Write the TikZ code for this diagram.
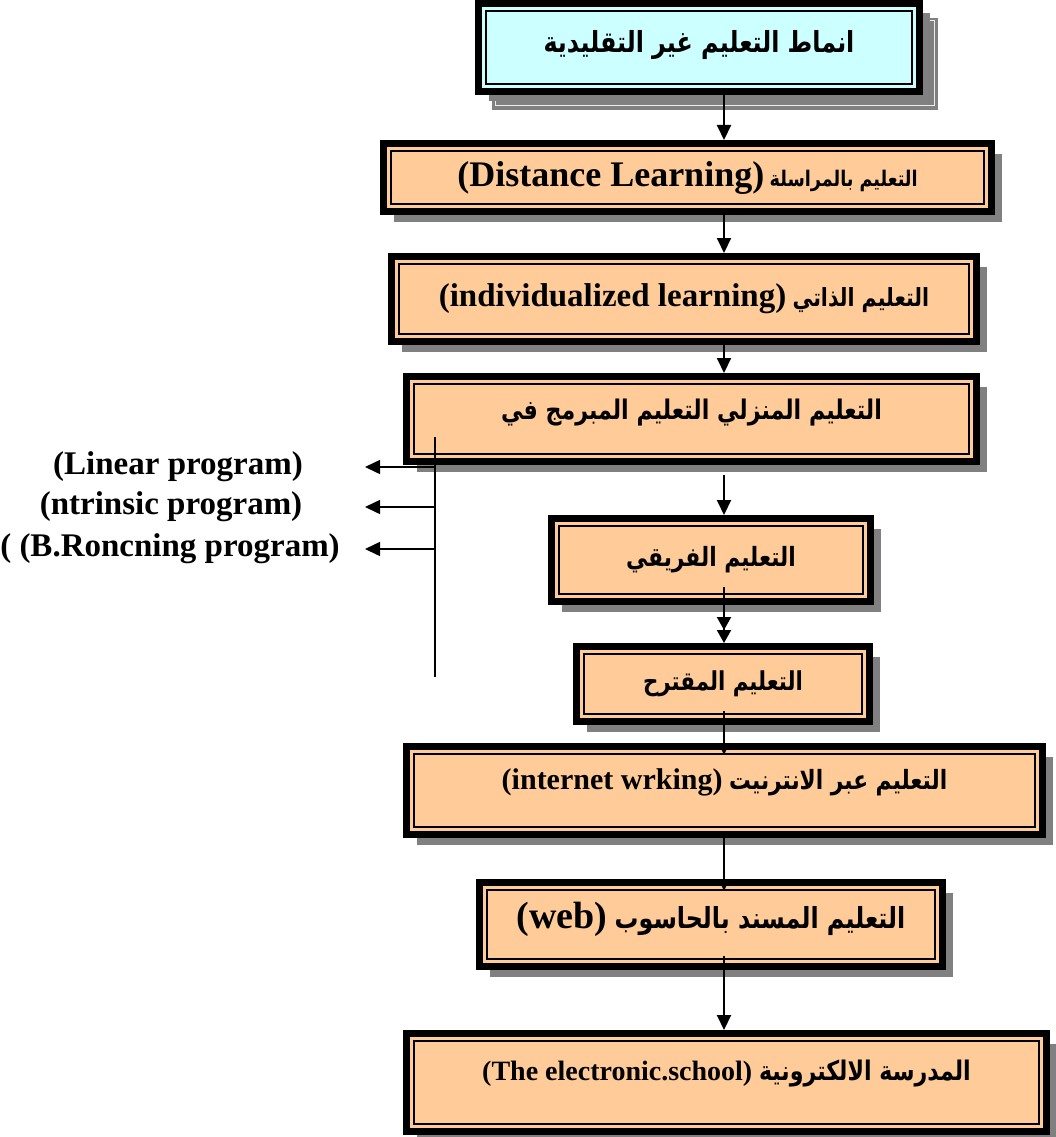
\documentclass[tikz,border=0pt]{standalone}
\usepackage{fontspec}
\setmainfont{Liberation Serif}
\newfontfamily\arabicfont[Script=Arabic,FakeStretch=0.82]{DejaVu Sans}
\TeXXeTstate=1
\usetikzlibrary{arrows.meta,shadows}

\definecolor{peach}{RGB}{255,204,153}
\definecolor{paleblue}{RGB}{204,255,255}
\definecolor{shadowgray}{RGB}{128,128,128}

\newcommand\fs[1]{\fontsize{#1}{#1}\selectfont}
\newcommand\arb[1]{\hbox{\arabicfont\bfseries\beginR #1\endR}}
\newcommand\lat[2]{\hbox{\rmfamily\bfseries\fs{#1}#2}}

\tikzset{
  learnbox/.style={draw, line width=7pt, fill=peach, inner sep=0pt,
    path picture={\draw[line width=2.2pt]
      ([shift={(7.75pt,7.75pt)}]path picture bounding box.south west) rectangle
      ([shift={(-7.75pt,-7.75pt)}]path picture bounding box.north east);},
    drop shadow={shadow xshift=10pt, shadow yshift=-10pt, fill=shadowgray, opacity=1}},
  titlebox/.style={learnbox, fill=paleblue, drop shadow={opacity=0}},
  arr/.style={line width=2pt, -{Triangle[width=14pt,length=15pt]}},
  smallarr/.style={line width=2pt, -{Triangle[width=7pt,length=8pt]}},
  dblarr/.style={line width=2pt, -{Triangle[width=14pt,length=13pt]Triangle[width=14pt,length=13pt]}},
  progtext/.style={font=\bfseries\fs{33}, inner sep=0pt}
}

\begin{document}
\begin{tikzpicture}[x=1pt, y=-1pt]
  \useasboundingbox (0,0) rectangle (1056,1137);

  % shadow of the title box
  \fill[shadowgray] (492,18) rectangle (938,110);
  \draw[white!85!gray, line width=1pt] (495,21) rectangle (934,106);

  % Nodes
  \node[titlebox, minimum width=441pt, minimum height=88pt, font=\fs{29}, text depth=12pt] (b1) at (699,47.5)
    {\arb{انماط التعليم غير التقليدية}};
  \node[learnbox, minimum width=608pt, minimum height=68pt, font=\fs{21.5}] (b2) at (687.5,177.5)
    {\lat{36}{(Distance Learning)} \arb{التعليم بالمراسلة}};
  \node[learnbox, minimum width=585pt, minimum height=85pt, font=\fs{25}] (b3) at (684,299)
    {\lat{33}{(individualized learning)} \arb{التعليم الذاتي}};
  \node[learnbox, minimum width=570pt, minimum height=85pt, font=\fs{27}, text depth=19pt] (b4) at (691.5,419)
    {\arb{التعليم المنزلي التعليم المبرمج في}};
  \node[learnbox, minimum width=319pt, minimum height=83pt, font=\fs{26.5}] (b5) at (711,560)
    {\arb{التعليم الفريقي}};
  \node[learnbox, minimum width=293pt, minimum height=75pt, font=\fs{26}] (b6) at (723,684)
    {\arb{التعليم المقترح}};
  \node[learnbox, minimum width=636pt, minimum height=88pt, font=\fs{26.5}, text depth=22pt] (b7) at (724.5,790.5)
    {\lat{30}{(internet wrking)} \arb{التعليم عبر الانترنيت}};
  \node[learnbox, minimum width=463pt, minimum height=84pt, font=\fs{29}, text depth=19pt] (b8) at (711,924.5)
    {\lat{38}{(web)} \arb{التعليم المسند بالحاسوب}};
  \node[learnbox, minimum width=640pt, minimum height=98pt, font=\fs{27}, text depth=24pt] (b9) at (726.5,1082.5)
    {\lat{28}{(The electronic.school)} \arb{المدرسة الالكترونية}};

  \node[progtext] (p1) at (178,467) {(Linear program)};
  \node[progtext] (p2) at (171,507) {(ntrinsic program)};
  \node[progtext] (p3) at (170,549) {( (B.Roncning program)};

  \coordinate (spine) at (724,0);
  \coordinate (fork) at (435,437);
  \coordinate (forkend) at (435,677);
  \coordinate (tips) at (365,0);

  % Edges
  \draw[arr] (spine |- b1.south) -- (spine |- b2.north);
  \draw[arr] (spine |- b2.south) -- (spine |- b3.north);
  \draw[arr] (spine |- b3.south) -- (spine |- b4.north);
  \draw[arr] ([yshift=-10pt]spine |- b4.south) -- (spine |- b5.north);
  \draw[dblarr] ([yshift=18pt]spine |- b5.south) -- (spine |- b6.north);
  \draw[smallarr] ([yshift=14pt]spine |- b6.south) -- ([yshift=-12pt]spine |- b7.north);
  \draw[smallarr] (spine |- b7.south) -- ([yshift=-12pt]spine |- b8.north);
  \draw[arr] ([yshift=14pt]spine |- b8.south) -- (spine |- b9.north);

  \draw[line width=1.5pt] (fork) -- (forkend);
  \draw[arr, line width=1.5pt] (fork |- p1) -- (tips |- p1);
  \draw[arr, line width=1.5pt] (fork |- p2) -- (tips |- p2);
  \draw[arr, line width=1.5pt] (fork |- p3) -- (tips |- p3);
\end{tikzpicture}
\end{document}
